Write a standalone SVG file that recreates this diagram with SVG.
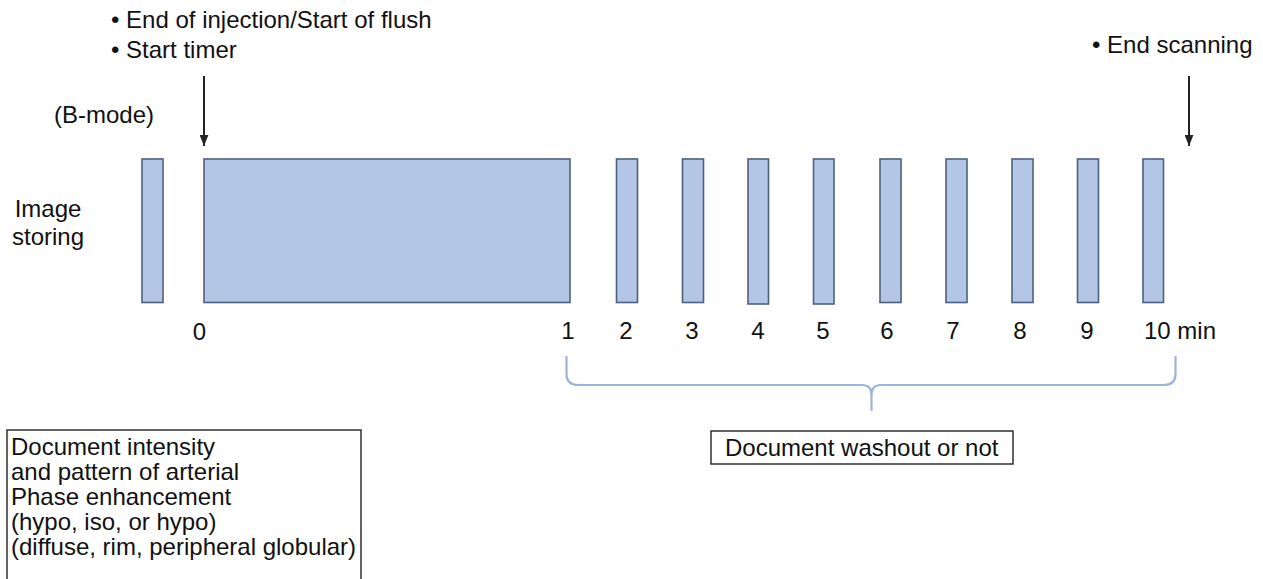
<svg xmlns="http://www.w3.org/2000/svg" width="1263" height="579" viewBox="0 0 1263 579">
<defs>
<style>
.t{font-family:"Liberation Sans",Arial,Helvetica,sans-serif;font-size:24px;fill:#111}
.bar{fill:#b4c6e6;stroke:#4f5f80;stroke-width:1.6}
.box{fill:#fff;stroke:#222;stroke-width:1.4}
.arr{stroke:#222;stroke-width:2;fill:none}
.brace{stroke:#9fb3d8;stroke-width:2.2;fill:none}
</style>
<marker id="ah" viewBox="0 0 10 8" refX="10" refY="4" markerWidth="11" markerHeight="9" markerUnits="userSpaceOnUse" orient="auto">
<path d="M0,0 L10,4 L0,8 Z" fill="#222"/>
</marker>
</defs>
<rect width="1263" height="579" fill="#fff"/>

<g id="label-top-left">
<text class="t" x="111" y="28">• End of injection/Start of flush</text>
<text class="t" x="111" y="58">• Start timer</text>
</g>
<g id="label-top-right">
<text class="t" x="1092" y="53">• End scanning</text>
</g>
<g id="label-bmode"><text class="t" x="54" y="123">(B-mode)</text></g>
<g id="label-image-storing">
<text class="t" x="48" y="217" text-anchor="middle">Image</text>
<text class="t" x="48" y="245" text-anchor="middle">storing</text>
</g>

<g id="bar-bmode"><rect class="bar" x="142" y="159" width="21" height="143.5"/></g>
<g id="bar-0-1"><rect class="bar" x="204" y="159" width="366" height="143.5"/></g>
<g id="bar-2"><rect class="bar" x="616.5" y="159" width="21" height="143.5"/></g>
<g id="bar-3"><rect class="bar" x="682.5" y="159" width="21" height="143.5"/></g>
<g id="bar-4"><rect class="bar" x="748" y="159" width="20.5" height="145"/></g>
<g id="bar-5"><rect class="bar" x="813.5" y="159" width="20.5" height="145"/></g>
<g id="bar-6"><rect class="bar" x="880" y="159" width="21" height="143.5"/></g>
<g id="bar-7"><rect class="bar" x="946" y="159" width="21" height="143.5"/></g>
<g id="bar-8"><rect class="bar" x="1012" y="159" width="21" height="143.5"/></g>
<g id="bar-9"><rect class="bar" x="1077.5" y="159" width="21" height="143.5"/></g>
<g id="bar-10"><rect class="bar" x="1143" y="159" width="20.5" height="143.5"/></g>

<g id="axis-labels">
<text class="t" x="199.5" y="340" text-anchor="middle">0</text>
<text class="t" x="568" y="339" text-anchor="middle">1</text>
<text class="t" x="626" y="339" text-anchor="middle">2</text>
<text class="t" x="692" y="339" text-anchor="middle">3</text>
<text class="t" x="758" y="339" text-anchor="middle">4</text>
<text class="t" x="823" y="339" text-anchor="middle">5</text>
<text class="t" x="887" y="339" text-anchor="middle">6</text>
<text class="t" x="953" y="339" text-anchor="middle">7</text>
<text class="t" x="1020" y="339" text-anchor="middle">8</text>
<text class="t" x="1087" y="339" text-anchor="middle">9</text>
<text class="t" x="1144" y="339">10 min</text>
</g>

<g id="connectors">
<line class="arr" x1="204" y1="76" x2="204" y2="146" marker-end="url(#ah)"/>
<line class="arr" x1="1189" y1="76" x2="1189" y2="146" marker-end="url(#ah)"/>
<path class="brace" d="M566.5,356 L566.5,374 Q566.5,385 578,385 L862,385 Q871.5,385 871.5,395 L871.5,411 M871.5,395 Q871.5,385 881,385 L1164,385 Q1175.5,385 1175.5,374 L1175.5,356"/>
</g>

<g id="box-washout">
<rect class="box" x="711" y="431" width="302" height="33"/>
<text class="t" x="725" y="456">Document washout or not</text>
</g>

<g id="box-arterial">
<rect class="box" x="7" y="430" width="354" height="160"/>
<text class="t" x="11" y="455">Document intensity</text>
<text class="t" x="11" y="480">and pattern of arterial</text>
<text class="t" x="11" y="505">Phase enhancement</text>
<text class="t" x="11" y="530">(hypo, iso, or hypo)</text>
<text class="t" x="11" y="555">(diffuse, rim, peripheral globular)</text>
</g>
</svg>
